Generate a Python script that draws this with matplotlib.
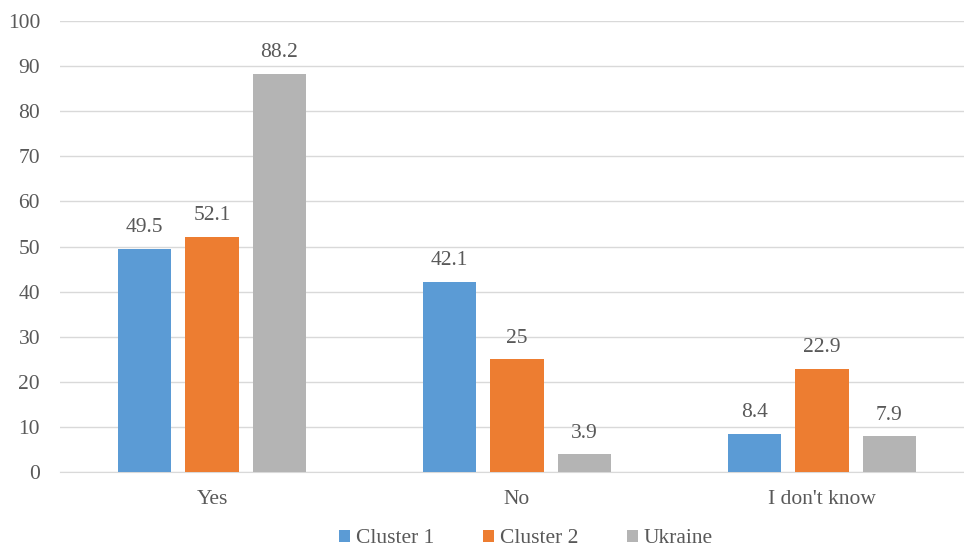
import numpy as np
import matplotlib.pyplot as plt

categories = ["Yes", "No", "I don't know"]
series_names = ["Cluster 1", "Cluster 2", "Ukraine"]
cluster1 = [49.5, 42.1, 8.4]
cluster2 = [52.1, 25, 22.9]
ukraine = [88.2, 3.9, 7.9]
colors = ["#5b9bd5", "#ed7d31", "#b4b4b4"]

plt.rcParams['font.family'] = ['Liberation Serif', 'DejaVu Serif']
text_color = "#595959"
fs = 15.5

fig = plt.figure(figsize=(9.64, 5.49), dpi=100)
ax = fig.add_axes([59.5 / 964, 1 - 472 / 549, 904.5 / 964, 451 / 549])

x = np.arange(len(categories))
w = 0.174
step = 0.221
for i, (vals, name) in enumerate(zip([cluster1, cluster2, ukraine], series_names)):
    pos = x + (i - 1) * step
    bars = ax.bar(pos, vals, width=w, color=colors[i], label=name, zorder=3)
    for xp, v in zip(pos, vals):
        ax.text(xp, v + 2.6, f"{v:g}", ha='center', va='bottom', fontsize=fs, color=text_color)

ax.set_xlim(-0.5, -0.5 + 904.5 / 305)
ax.set_ylim(0, 100)
ax.set_yticks(range(0, 101, 10))
ax.set_xticks(x)
ax.set_xticklabels(categories)
ax.grid(axis='y', color='#d9d9d9', linewidth=1, zorder=0)
for s in ['top', 'right', 'left']:
    ax.spines[s].set_visible(False)
ax.spines['bottom'].set_color('#d9d9d9')
ax.tick_params(axis='both', length=0, labelsize=fs, colors=text_color)
ax.tick_params(axis='y', pad=14)
ax.tick_params(axis='x', pad=13)

leg = fig.legend(loc='lower center', bbox_to_anchor=(0.5 + 44 / 964, -0.034), ncol=3, frameon=False,
                 fontsize=fs, handlelength=0.5, handleheight=0.5, columnspacing=2.25, handletextpad=0.3)
for t in leg.get_texts():
    t.set_color(text_color)

fig.savefig("out.png", dpi=100)
